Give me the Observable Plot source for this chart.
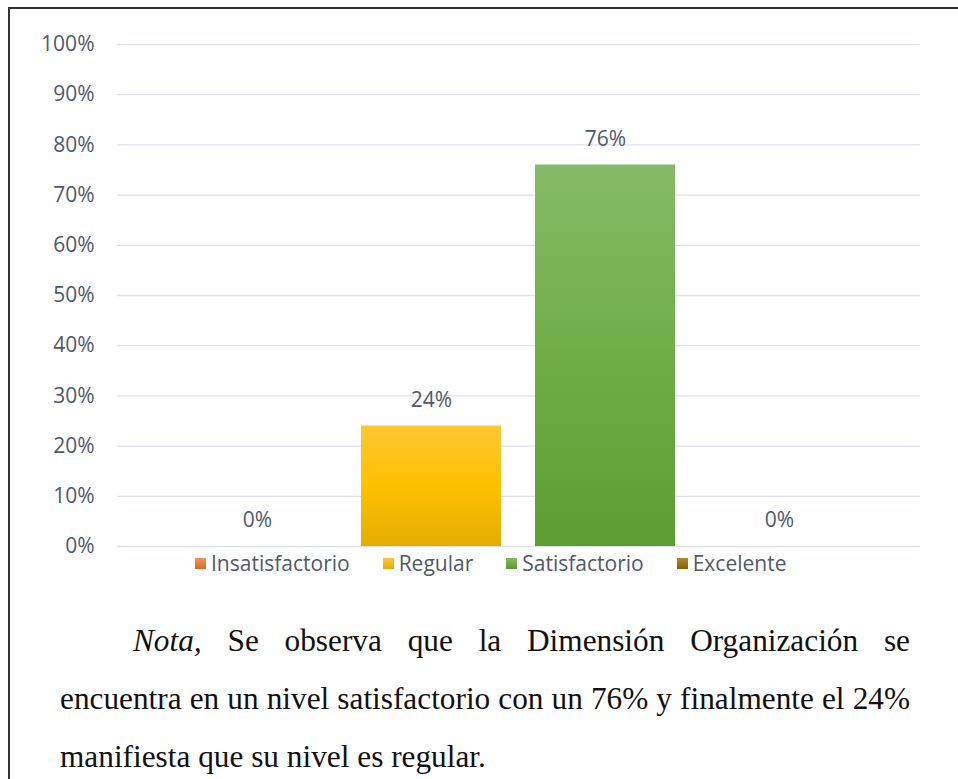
<!DOCTYPE html>
<html>
<head>
<meta charset="utf-8">
<script src="https://cdn.jsdelivr.net/npm/d3@7"></script>
<script src="https://cdn.jsdelivr.net/npm/@observablehq/plot@0.6"></script>
<style>
  html, body { margin: 0; padding: 0; background: #fff; overflow: hidden; width: 958px; height: 779px; }
  #frame { position: absolute; left: 8px; top: 7px; width: 2000px; height: 2000px;
           border-top: 2px solid #333; border-left: 2px solid #333; pointer-events: none; }
  #chart { position: absolute; left: 0; top: 0; }
  #legend { position: absolute; left: 195px; top: 551px; height: 24px; display: flex; align-items: center;
            font-family: "Open Sans", sans-serif; font-size: 21px; color: #4f596b; }
  #legend .item { display: flex; align-items: center; margin-right: 33px; }
  #legend .sw { width: 11px; height: 11px; margin-right: 5px; }
  #caption { position: absolute; left: 60px; top: 612px; width: 850px;
             font-family: "Liberation Serif", "Times New Roman", serif; font-size: 31.3px; line-height: 58px;
             color: #111; }
  #caption .ln { white-space: nowrap; text-align: justify; text-align-last: justify; }
  #caption .ln.first { padding-left: 73px; }
  #caption .ln.last { text-align: left; text-align-last: left; }
</style>
</head>
<body>
<div id="chart"></div>
<div id="legend"></div>
<div id="caption">
  <div class="ln first"><i>Nota,</i> Se observa que la Dimensión Organización se</div>
  <div class="ln">encuentra en un nivel satisfactorio con un 76% y finalmente el 24%</div>
  <div class="ln last">manifiesta que su nivel es regular.</div>
</div>
<div id="frame"></div>
<script>
const categories = ["Insatisfactorio", "Regular", "Satisfactorio", "Excelente"];
const values = [0, 0.24, 0.76, 0];
const yTicks = [0, 0.1, 0.2, 0.3, 0.4, 0.5, 0.6, 0.7, 0.8, 0.9, 1];

// styles
const gradStops = [
  ["#F39559", "#ED7D31", "#D86A22"],
  ["#FFC634", "#FFC000", "#E3AD00"],
  ["#86BA66", "#70AD47", "#5C9D32"],
  ["#B08A2E", "#9E7000", "#876000"]
];
const textColor = "#4f596b";

const data = categories.map((c, i) => ({category: c, value: values[i], grad: `url(#grad-${i})`}));

const chart = Plot.plot({
  width: 958,
  height: 562,
  marginTop: 44,
  marginBottom: 16,
  marginLeft: 117,
  marginRight: 38,
  style: {fontFamily: "Open Sans, sans-serif", fontSize: "21px", color: textColor, background: "transparent", overflow: "visible"},
  x: {domain: categories, range: [170, 866.5], paddingInner: 0.1954, paddingOuter: 0.0977, axis: null},
  y: {domain: [0, 1], ticks: yTicks, tickFormat: d3.format(".0%"), tickSize: 0, tickPadding: 23, label: null},
  color: {type: "identity"},
  marks: [
    Plot.ruleY(yTicks, {stroke: "#dde2ea", strokeWidth: 1.3}),
    Plot.axisY({ticks: yTicks, tickFormat: d3.format(".0%"), tickSize: 0, tickPadding: 23, label: null, fill: textColor, fontSize: 21}),
    Plot.barY(data, {x: "category", y: "value", fill: "grad"}),
    Plot.text(data, {x: "category", y: "value", text: d => d3.format(".0%")(d.value), dy: -26, fill: textColor, fontSize: 21})
  ]
});

const defs = d3.select(chart).insert("defs", ":first-child");
gradStops.forEach((s, i) => {
  const g = defs.append("linearGradient").attr("id", `grad-${i}`).attr("x1", 0).attr("y1", 0).attr("x2", 0).attr("y2", 1);
  g.append("stop").attr("offset", "0%").attr("stop-color", s[0]);
  g.append("stop").attr("offset", "50%").attr("stop-color", s[1]);
  g.append("stop").attr("offset", "100%").attr("stop-color", s[2]);
});
document.getElementById("chart").appendChild(chart);

const legend = d3.select("#legend");
categories.forEach((c, i) => {
  const it = legend.append("div").attr("class", "item");
  it.append("div").attr("class", "sw").style("background", `linear-gradient(${gradStops[i][0]}, ${gradStops[i][2]})`);
  it.append("span").text(c);
});
</script>
</body>
</html>
